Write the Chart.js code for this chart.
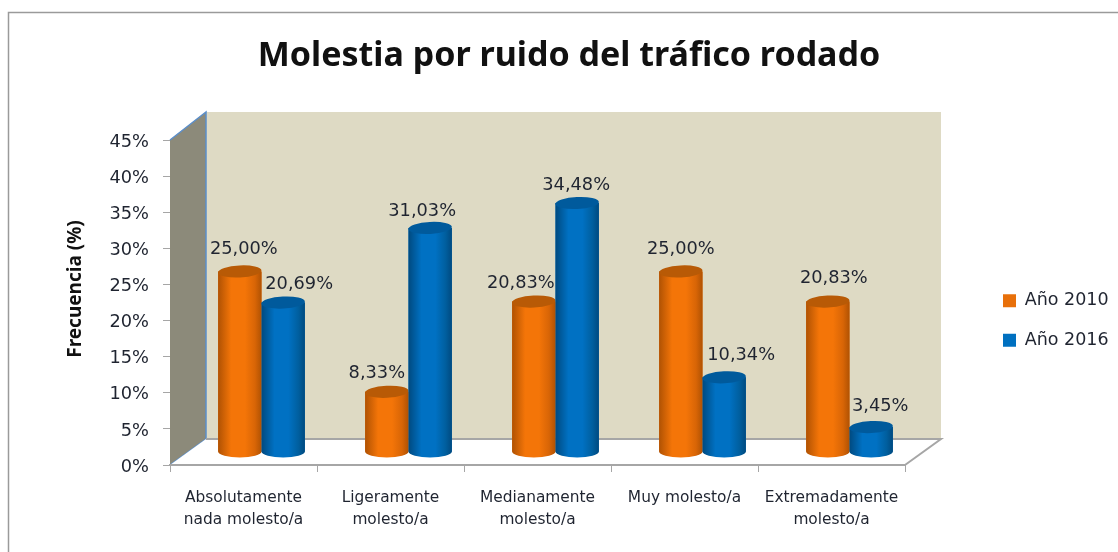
<!DOCTYPE html>
<html>
<head>
<meta charset="utf-8">
<title>Molestia por ruido</title>
<script src="https://cdn.jsdelivr.net/npm/chart.js@4"></script>
<style>
  html, body { margin: 0; padding: 0; background: #fff; }
  canvas { display: block; }
</style>
</head>
<body>
<canvas id="myChart" width="1118" height="552"></canvas>
<script>
const categories = [
  ['Absolutamente', 'nada molesto/a'],
  ['Ligeramente', 'molesto/a'],
  ['Medianamente', 'molesto/a'],
  ['Muy molesto/a'],
  ['Extremadamente', 'molesto/a']
];
const year2010 = [25.00, 8.33, 20.83, 25.00, 20.83];
const year2016 = [20.69, 31.03, 34.48, 10.34, 3.45];
const yTicks = [0, 5, 10, 15, 20, 25, 30, 35, 40, 45];

const FONT = '"DejaVu Sans", sans-serif';
const BOLD_FONT = '"Noto Sans", sans-serif';
const TEXT = '#1f2430';

// depth of the fake 3D box, back wall is shifted this far from the axes
const DEPTH_X = 36;
const DEPTH_Y = -26;
const DEPTH_TOP_Y = -28;
// the cylinders stand in the middle of the floor
const BAR_X = 18;
const BAR_Y = -13;

// hand nudges for the value labels, excel moved them around
const labelNudge = [
  [[4, -22], [-10, -18], [-13, -18], [0, -22], [6, -23]],
  [[16, -18], [-8, -17], [-1, -18], [17, -22], [9, -21]]
];

const shades = [
  { edge: '#b05203', mid: '#f47508', dark: '#d86506', cap: '#b85a06' },
  { edge: '#004a80', mid: '#0071c3', dark: '#005f9f', cap: '#005a9c' }
];

function percent(v) {
  return v.toFixed(2).replace('.', ',') + '%';
}

const boxPlugin = {
  id: 'box3d',
  afterLayout(chart) {
    // legend lives in the white space right of the box
    chart.legend.left = 981;
    chart.legend.right = 1118;
    chart.legend.top = 270;
    chart.legend.bottom = 400;
    // title is centred on the frame, not on the plot
    chart.titleBlock.left = 20;
    chart.titleBlock.right = 1118;
  },
  beforeDraw(chart) {
    const c = chart.ctx;
    const a = chart.chartArea;
    const backLeft = a.left + DEPTH_X;
    const backTop = a.top + DEPTH_TOP_Y;
    const backBottom = a.bottom + DEPTH_Y;
    c.save();
    // outer frame, runs off the picture on the right and at the bottom
    c.strokeStyle = '#9a9a9a';
    c.lineWidth = 1.5;
    c.strokeRect(8.5, 12.5, 1200, 600);

    // back wall
    c.fillStyle = '#dedac4';
    c.fillRect(backLeft, backTop, a.right - a.left, backBottom - backTop);

    // side wall, blue line only on the three far edges
    c.fillStyle = '#8c8a7a';
    c.beginPath();
    c.moveTo(a.left, a.top);
    c.lineTo(backLeft, backTop);
    c.lineTo(backLeft, backBottom);
    c.lineTo(a.left, a.bottom);
    c.closePath();
    c.fill();
    c.strokeStyle = '#5b8ec9';
    c.lineWidth = 1.5;
    c.beginPath();
    c.moveTo(a.left, a.top);
    c.lineTo(backLeft, backTop);
    c.lineTo(backLeft, backBottom);
    c.lineTo(a.left, a.bottom);
    c.stroke();

    // floor
    c.fillStyle = '#ffffff';
    c.beginPath();
    c.moveTo(a.left, a.bottom);
    c.lineTo(backLeft, backBottom);
    c.lineTo(a.right + DEPTH_X, backBottom);
    c.lineTo(a.right, a.bottom);
    c.closePath();
    c.fill();
    c.strokeStyle = '#a6a6a6';
    c.lineWidth = 2;
    c.beginPath();
    c.moveTo(backLeft, backBottom);
    c.lineTo(a.right + DEPTH_X, backBottom);
    c.lineTo(a.right, a.bottom);
    c.stroke();
    c.restore();
  },
  beforeDatasetsDraw(chart) {
    // library bars go to the same spot as the cylinders drawn over them
    chart.ctx.save();
    chart.ctx.translate(BAR_X, BAR_Y);
  },
  afterDatasetsDraw(chart) {
    const c = chart.ctx;
    c.restore();
    // orange first so the blue one sits on top of it
    [0, 1].forEach(function (ds) {
      const s = shades[ds];
      chart.getDatasetMeta(ds).data.forEach(function (bar) {
        const x = bar.x + BAR_X;
        const top = bar.y + BAR_Y;
        const bottom = bar.base + BAR_Y;
        const rx = bar.width / 2;
        const ry = 6;
        const grad = c.createLinearGradient(x - rx, 0, x + rx, 0);
        grad.addColorStop(0, s.edge);
        grad.addColorStop(0.3, s.mid);
        grad.addColorStop(0.62, s.mid);
        grad.addColorStop(0.85, s.dark);
        grad.addColorStop(1, s.edge);
        c.save();
        c.fillStyle = grad;
        c.beginPath();
        c.moveTo(x - rx, top);
        c.lineTo(x - rx, bottom);
        c.ellipse(x, bottom, rx, ry, 0, Math.PI, 0, true);
        c.lineTo(x + rx, top);
        c.closePath();
        c.fill();
        c.fillStyle = s.cap;
        c.beginPath();
        c.ellipse(x, top, rx, ry, -0.05, 0, Math.PI * 2);
        c.fill();
        c.restore();
      });
    });

    // value labels
    c.save();
    c.font = '17.8px ' + FONT;
    c.fillStyle = TEXT;
    c.textAlign = 'center';
    c.textBaseline = 'middle';
    [year2010, year2016].forEach(function (vals, ds) {
      chart.getDatasetMeta(ds).data.forEach(function (bar, i) {
        const n = labelNudge[ds][i];
        c.fillText(percent(vals[i]), bar.x + BAR_X + n[0], bar.y + BAR_Y + n[1]);
      });
    });

    // y title sits higher than the axis middle, so it is placed by hand
    c.translate(76, 289);
    c.rotate(-Math.PI / 2);
    c.font = 'bold 19px ' + BOLD_FONT;
    c.fillStyle = '#111';
    c.fillText('Frecuencia (%)', 0, 0);
    c.restore();
  }
};

const ctx = document.getElementById('myChart');

const chart = new Chart(ctx, {
  type: 'bar',
  data: {
    labels: categories,
    datasets: [
      { label: 'Año 2010', data: year2010, backgroundColor: '#e8700a', borderWidth: 0 },
      { label: 'Año 2016', data: year2016, backgroundColor: '#0070c0', borderWidth: 0 }
    ]
  },
  options: {
    responsive: false,
    animation: false,
    layout: { padding: { left: 20, right: 213, top: 0, bottom: 0 } },
    datasets: { bar: { barPercentage: 1, categoryPercentage: 0.59 } },
    scales: {
      x: {
        grid: { drawOnChartArea: false, color: '#a6a6a6', tickLength: 7, offset: true },
        border: { color: '#a6a6a6', width: 2 },
        ticks: {
          color: TEXT,
          font: { family: FONT, size: 15.4, lineHeight: 1.43 },
          padding: 15,
          maxRotation: 0,
          autoSkip: false
        },
        afterFit(scale) { scale.height = 87; }
      },
      y: {
        min: 0,
        max: 45,
        afterBuildTicks(scale) { scale.ticks = yTicks.map(function (v) { return { value: v }; }); },
        grid: { drawOnChartArea: false, color: '#a6a6a6', tickLength: 7 },
        border: { display: false },
        ticks: {
          color: TEXT,
          font: { family: FONT, size: 17.8 },
          padding: 14,
          labelOffset: 2,
          callback(v) { return v + '%'; }
        },
        afterFit(scale) { scale.width = 150; }
      }
    },
    plugins: {
      title: {
        display: true,
        text: 'Molestia por ruido del tráfico rodado',
        color: '#111',
        font: { family: BOLD_FONT, size: 34, weight: 'bold' },
        padding: { top: 36, bottom: 63.2 }
      },
      legend: {
        position: 'chartArea',
        align: 'start',
        labels: {
          boxWidth: 13,
          boxHeight: 13,
          padding: 22,
          color: TEXT,
          font: { family: FONT, size: 17.5 }
        }
      },
      tooltip: { enabled: false }
    }
  },
  plugins: [boxPlugin]
});
</script>
</body>
</html>
